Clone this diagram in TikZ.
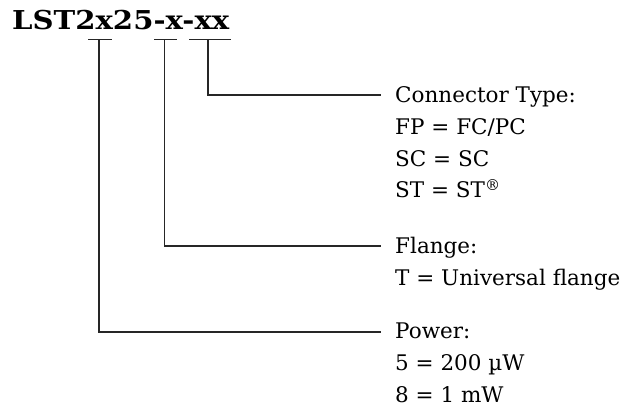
\documentclass[tikz,border=0pt]{standalone}
\usepackage{fontspec}
\setmainfont{DejaVu Serif}
\newfontfamily\titlefont{DejaVu Serif}[FakeStretch=1.12]
\begin{document}
\begin{tikzpicture}[x=1pt,y=-1pt,
  line/.style={line width=1.1pt, black!85},
  titletext/.style={font=\titlefont\fontsize{26}{30}\selectfont\bfseries, inner sep=0pt, anchor=base west},
  label/.style={font=\fontsize{21.5}{32}\selectfont, inner sep=0pt, anchor=base west, align=left}]
\useasboundingbox (0,0) rectangle (635,409);
\node[titletext] (pn) at (12,30) {LST2x25-x-xx};
% underlines
\coordinate (u1a) at (88,39.5);  \coordinate (u1b) at (112,39.5);
\coordinate (u2a) at (154,39.5); \coordinate (u2b) at (177,39.5);
\coordinate (u3a) at (189,39.5); \coordinate (u3b) at (231,39.5);
\draw[line] (u1a) -- (u1b);
\draw[line] (u2a) -- (u2b);
\draw[line] (u3a) -- (u3b);
\coordinate (v1) at (99,39.5);
\coordinate (v2) at (164.5,39.5);
\coordinate (v3) at (208,39.5);
% labels (anchor = baseline of last line)
\node[label] (conn) at (395,198) {Connector Type:\\FP = FC/PC\\SC = SC\\ST = ST\textsuperscript{\textregistered}};
\node[label] (flange) at (395,285) {Flange:\\T = Universal flange};
\node[label] (power) at (395,402) {Power:\\5 = 200 µW\\8 = 1 mW};
\coordinate (e3) at (381,95);
\coordinate (e2) at (381,246);
\coordinate (e1) at (381,332);
\draw[line] (v3) |- (e3);
\draw[line] (v2) |- (e2);
\draw[line] (v1) |- (e1);
\end{tikzpicture}
\end{document}
